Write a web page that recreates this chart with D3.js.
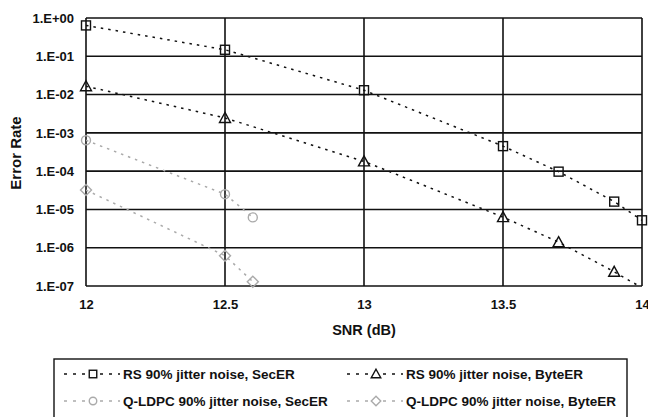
<!DOCTYPE html>
<html>
<head>
<meta charset="utf-8">
<script src="https://cdn.jsdelivr.net/npm/d3@7"></script>
<style>
  body { margin: 0; background: #fff; }
  svg { display: block; font-family: "Liberation Sans", Arial, sans-serif; font-weight: bold; }
</style>
</head>
<body>
<svg width="648" height="417"></svg>
<script>
// values
var snrTicks = [12, 12.5, 13, 13.5, 14];
var rateTicks = [1, 1e-1, 1e-2, 1e-3, 1e-4, 1e-5, 1e-6, 1e-7];
var rateLabels = ["1.E+00", "1.E-01", "1.E-02", "1.E-03", "1.E-04", "1.E-05", "1.E-06", "1.E-07"];

var rsSnr = [12, 12.5, 13, 13.5, 13.7, 13.9, 14];
var rsSecER = [0.64, 0.148, 0.013, 4.5e-4, 9.7e-5, 1.6e-5, 5.2e-6];
var rsByteSnr = [12, 12.5, 13, 13.5, 13.7, 13.9, 14];
var rsByteER = [0.0165, 2.45e-3, 1.8e-4, 6.3e-6, 1.4e-6, 2.35e-7, 9e-8];
var ldpcSnr = [12, 12.5, 12.6];
var ldpcSecER = [6.4e-4, 2.5e-5, 6.2e-6];
var ldpcByteER = [3.2e-5, 6.2e-7, 1.3e-7];

var legendNames = [
  "RS 90% jitter noise, SecER",
  "RS 90% jitter noise, ByteER",
  "Q-LDPC 90% jitter noise, SecER",
  "Q-LDPC 90% jitter noise, ByteER"
];

var svg = d3.select("svg");
var pLeft = 86, pRight = 642, pTop = 18, pBottom = 286;

var x = d3.scaleLinear().domain([12, 14]).range([pLeft, pRight]);
var y = d3.scaleLog().domain([1e-7, 1]).range([pBottom, pTop]);

var series = [
  { name: legendNames[0], xs: rsSnr, ys: rsSecER, color: "#111", shape: "square" },
  { name: legendNames[1], xs: rsByteSnr, ys: rsByteER, color: "#111", shape: "triangle" },
  { name: legendNames[2], xs: ldpcSnr, ys: ldpcSecER, color: "#aaa", shape: "circle" },
  { name: legendNames[3], xs: ldpcSnr, ys: ldpcByteER, color: "#aaa", shape: "diamond" }
];

svg.append("defs").append("clipPath").attr("id", "plotclip")
  .append("rect").attr("x", pLeft).attr("y", pTop)
  .attr("width", pRight - pLeft).attr("height", pBottom - pTop);

// grid
var grid = svg.append("g");
grid.selectAll(".hg").data(rateTicks).join("line")
  .attr("x1", pLeft).attr("x2", pRight)
  .attr("y1", d => y(d)).attr("y2", d => y(d))
  .attr("stroke", "#111").attr("stroke-width", 1.6);
grid.selectAll(".vg").data(snrTicks).join("line")
  .attr("y1", pTop).attr("y2", pBottom)
  .attr("x1", d => x(d)).attr("x2", d => x(d))
  .attr("stroke", "#111").attr("stroke-width", 1.6);

// axes labels
var yAxis = d3.axisLeft(y).tickValues(rateTicks)
  .tickFormat((d, i) => rateLabels[i]).tickSize(0).tickPadding(12);
var ya = svg.append("g").attr("transform", "translate(" + pLeft + ",0)").call(yAxis);
ya.select(".domain").remove();
ya.selectAll("text").attr("font-size", 13).attr("font-weight", "bold")
  .attr("font-family", "Liberation Sans, Arial, sans-serif").attr("fill", "#111");

var xAxis = d3.axisBottom(x).tickValues(snrTicks).tickFormat(d3.format("")).tickSize(0).tickPadding(14);
var xa = svg.append("g").attr("transform", "translate(0," + pBottom + ")").call(xAxis);
xa.select(".domain").remove();
xa.selectAll("text").attr("font-size", 13).attr("font-weight", "bold")
  .attr("font-family", "Liberation Sans, Arial, sans-serif").attr("fill", "#111");

svg.append("text").attr("x", x(13)).attr("y", 335).attr("text-anchor", "middle")
  .attr("font-size", 14.5).attr("fill", "#111").text("SNR (dB)");
svg.append("text").attr("transform", "translate(21,153) rotate(-90)")
  .attr("text-anchor", "middle").attr("font-size", 15).attr("fill", "#111").text("Error Rate");

function marker(g, shape, color, size) {
  var s = size / 2, m;
  if (shape === "square") {
    m = g.append("rect").attr("x", -s).attr("y", -s).attr("width", size).attr("height", size);
  } else if (shape === "triangle") {
    m = g.append("path").attr("d", "M0," + (-s - 1) + "L" + (s + 1) + "," + s + "L" + (-s - 1) + "," + s + "Z");
  } else if (shape === "circle") {
    m = g.append("circle").attr("r", s);
  } else {
    m = g.append("path").attr("d", "M0," + (-s - 1) + "L" + (s + 1) + ",0L0," + (s + 1) + "L" + (-s - 1) + ",0Z");
  }
  m.attr("fill", "none").attr("stroke", color).attr("stroke-width", 1.4);
}

var plot = svg.append("g").attr("clip-path", "url(#plotclip)");
var marks = svg.append("g");
var line = d3.line().x(d => x(d[0])).y(d => y(d[1]));

series.forEach(function (s) {
  var pts = s.xs.map((v, i) => [v, s.ys[i]]);
  plot.append("path").attr("d", line(pts)).attr("fill", "none")
    .attr("stroke", s.color).attr("stroke-width", 1.5).attr("stroke-dasharray", "2.5,5");
  pts.filter(p => p[1] >= 1e-7).forEach(function (p) {
    var g = marks.append("g").attr("transform", "translate(" + x(p[0]) + "," + y(p[1]) + ")");
    marker(g, s.shape, s.color, 9);
  });
});

// legend
var lg = svg.append("g");
lg.append("rect").attr("x", 54).attr("y", 359).attr("width", 573).attr("height", 70)
  .attr("fill", "none").attr("stroke", "#111").attr("stroke-width", 1.4);
series.forEach(function (s, i) {
  var cx = i % 2 === 0 ? 64 : 347;
  var cy = i < 2 ? 374 : 401;
  var g = lg.append("g").attr("transform", "translate(" + cx + "," + cy + ")");
  g.append("line").attr("x1", 0).attr("x2", 56).attr("y1", 0).attr("y2", 0)
    .attr("stroke", s.color).attr("stroke-width", 1.5).attr("stroke-dasharray", "3,6");
  var m = g.append("g").attr("transform", "translate(29,0)");
  m.append("rect").attr("x", -5).attr("y", -5).attr("width", 10).attr("height", 10).attr("fill", "#fff");
  marker(m, s.shape, s.color, 7.5);
  g.append("text").attr("x", 59).attr("y", 5).attr("font-size", 13.5)
    .attr("fill", "#111").text(s.name);
});
</script>
</body>
</html>
